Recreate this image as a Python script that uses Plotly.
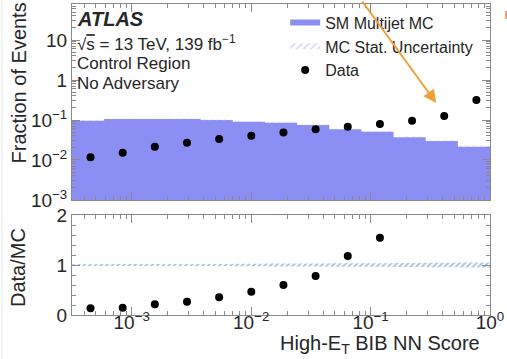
import plotly.graph_objects as go
import numpy as np

# ---- data ----
bin_edges = [3.162e-4, 5.878e-4, 1.0927e-3, 2.031e-3, 3.775e-3, 7.017e-3,
             1.3044e-2, 2.4245e-2, 4.507e-2, 8.377e-2, 0.15572, 0.28943, 0.538, 1.0]
mc_fraction = [0.096, 0.106, 0.106, 0.106, 0.100, 0.091, 0.0855, 0.075,
               0.0585, 0.051, 0.037, 0.030, 0.0215]
mc_stat_unc = [0.02, 0.02, 0.02, 0.022, 0.022, 0.025, 0.028, 0.03,
               0.033, 0.035, 0.04, 0.045, 0.05]
data_fraction = [0.0117, 0.0152, 0.0215, 0.0271, 0.0335, 0.0405, 0.049,
                 0.0585, 0.068, 0.0794, 0.096, 0.126, 0.316]
ratio = [0.134, 0.147, 0.213, 0.267, 0.353, 0.467, 0.60, 0.78, 1.18, 1.547,
         2.6, 4.2, 14.7]

x_ticks = [1e-3, 1e-2, 1e-1, 1]
x_ticktext = ["10<sup>−3</sup>", "10<sup>−2</sup>", "10<sup>−1</sup>", "10<sup>0</sup>"]
y_ticks = [1e-3, 1e-2, 1e-1, 1, 10]
y_ticktext = ["10<sup>−3</sup>", "10<sup>−2</sup>", "10<sup>−1</sup>", "1", "10"]

edges = np.array(bin_edges)
mc = np.array(mc_fraction)
unc = np.array(mc_stat_unc)
centers = (edges[:-1] + edges[1:]) / 2

def steps(vals):
    xs, ys = [], []
    for i, v in enumerate(vals):
        xs += [edges[i], edges[i + 1]]
        ys += [v, v]
    return xs, ys

FONT = "Liberation Sans, Arial, Helvetica, sans-serif"
TXT = "#262626"
BLUE = "#8b8ff3"
FRAME = "#8a8a8a"

fig = go.Figure()

hx, hy = steps(mc)
fig.add_trace(go.Scatter(x=hx + [edges[-1], edges[0]], y=hy + [1e-3, 1e-3],
                         fill="toself", fillcolor=BLUE, mode="none",
                         name="SM Multijet MC", xaxis="x", yaxis="y"))
ux, uy = steps(mc * (1 + unc))
lx, ly = steps(mc * (1 - unc))
fig.add_trace(go.Scatter(x=ux + lx[::-1], y=uy + ly[::-1], fill="toself",
                         fillcolor="rgba(0,0,0,0)", mode="none",
                         fillpattern=dict(shape="/", fgcolor="#b3b8f2", bgcolor="rgba(0,0,0,0)",
                                          size=5, solidity=0.4),
                         name="MC Stat. Uncertainty", xaxis="x", yaxis="y"))
fig.add_trace(go.Scatter(x=centers, y=data_fraction, mode="markers",
                         marker=dict(color="black", size=8), name="Data",
                         xaxis="x", yaxis="y"))
rux, ruy = steps(1 + unc)
rlx, rly = steps(1 - unc)
fig.add_trace(go.Scatter(x=rux + rlx[::-1], y=ruy + rly[::-1], fill="toself",
                         fillcolor="rgba(0,0,0,0)", mode="none",
                         fillpattern=dict(shape="/", fgcolor="#5a88b8", bgcolor="rgba(0,0,0,0)",
                                          size=4, solidity=0.5),
                         showlegend=False, xaxis="x2", yaxis="y2"))
fig.add_trace(go.Scatter(x=centers, y=ratio, mode="markers",
                         marker=dict(color="black", size=8), showlegend=False,
                         cliponaxis=True, xaxis="x2", yaxis="y2"))

axis_common = dict(showline=True, linecolor=FRAME, linewidth=1, mirror="allticks",
                   ticks="inside", ticklen=8, tickcolor=FRAME, showgrid=False,
                   zeroline=False, tickfont=dict(size=19, color=TXT, family=FONT))

x_minor = [m * 10.0 ** e for e in range(-4, 0) for m in range(2, 10)]
y_minor = [m * 10.0 ** e for e in range(-3, 2) for m in range(2, 10)]

fig.update_layout(
    width=507, height=359,
    margin=dict(l=72, r=17, t=4, b=44, autoexpand=False),
    paper_bgcolor="white", plot_bgcolor="white",
    font=dict(family=FONT, color=TXT),
    xaxis=dict(type="log", range=[-3.5, 0], anchor="y", matches="x2",
               showticklabels=False, tickvals=x_ticks,
               minor=dict(ticks="inside", ticklen=4, tickcolor=FRAME, tickvals=x_minor),
               **axis_common),
    xaxis2=dict(type="log", range=[-3.5, 0], anchor="y2", tickvals=x_ticks,
                ticktext=x_ticktext, ticklabelstandoff=-10,
                minor=dict(ticks="inside", ticklen=4, tickcolor=FRAME, tickvals=x_minor),
                **axis_common),
    yaxis=dict(type="log", range=[-3, 1.9], domain=[0.3698, 1], anchor="x",
               tickvals=y_ticks, ticktext=y_ticktext,
               minor=dict(ticks="inside", ticklen=4, tickcolor=FRAME, tickvals=y_minor),
               **axis_common),
    yaxis2=dict(range=[0, 2], domain=[0, 0.3215], anchor="x2", tickvals=[0, 1, 2],
                minor=dict(ticks="inside", ticklen=4, tickcolor=FRAME, dtick=0.2),
                **axis_common),
    legend=dict(x=0.51, y=0.995, xanchor="left", yanchor="top",
                bgcolor="rgba(0,0,0,0)", font=dict(size=16, color=TXT, family=FONT),
                itemwidth=30, tracegroupgap=0),
    showlegend=True,
)

W, H = 507, 359
pw, ph = W - 72 - 17, H - 4 - 44

def px_x(x):
    return (x - 72) / pw

def px_y(y):
    return (H - 44 - y) / ph

anns = [
    dict(text="<b><i>ATLAS</i></b>", y=19, size=20),
    dict(text="√<span style='text-decoration:overline'>s</span> = 13 TeV, 139 fb<sup>−1</sup>", y=43, size=17),
    dict(text="Control Region", y=63.5, size=17),
    dict(text="No Adversary", y=83, size=17),
]
for a in anns:
    fig.add_annotation(text=a["text"], xref="paper", yref="paper",
                       x=px_x(75), y=px_y(a["y"]),
                       xanchor="left", yanchor="middle", showarrow=False,
                       font=dict(size=a["size"], color=TXT, family=FONT))

fig.add_annotation(text="Fraction of Events", xref="paper", yref="paper",
                   x=px_x(18), y=px_y(1), xanchor="center", yanchor="top",
                   textangle=-90, showarrow=False, font=dict(size=20, color=TXT, family=FONT))
fig.add_annotation(text="Data/MC", xref="paper", yref="paper",
                   x=px_x(18), y=px_y(268), xanchor="center", yanchor="middle",
                   textangle=-90, showarrow=False, font=dict(size=20, color=TXT, family=FONT))
fig.add_annotation(text="High-E<sub>T</sub> BIB NN Score", xref="paper", yref="paper",
                   x=px_x(482), y=px_y(344), xanchor="right", yanchor="middle",
                   showarrow=False, font=dict(size=20, color=TXT, family=FONT))

fig.add_annotation(x=-0.45, y=-0.575, xref="x", yref="y", axref="pixel", ayref="pixel",
                   ax=-75, ay=-103, text="", showarrow=True, arrowhead=2, arrowsize=1.3,
                   arrowwidth=2, arrowcolor="#f0a035")

# faint page edge and cropped orange mark at the right border
fig.add_shape(type="line", xref="paper", yref="paper", x0=px_x(2), x1=px_x(2),
              y0=px_y(0), y1=px_y(359), line=dict(color="#e6e6e6", width=1))
fig.add_shape(type="line", xref="paper", yref="paper", x0=px_x(506), x1=px_x(506),
              y0=px_y(11), y1=px_y(19), line=dict(color="#f4a070", width=2))

fig.write_html("out.html")
